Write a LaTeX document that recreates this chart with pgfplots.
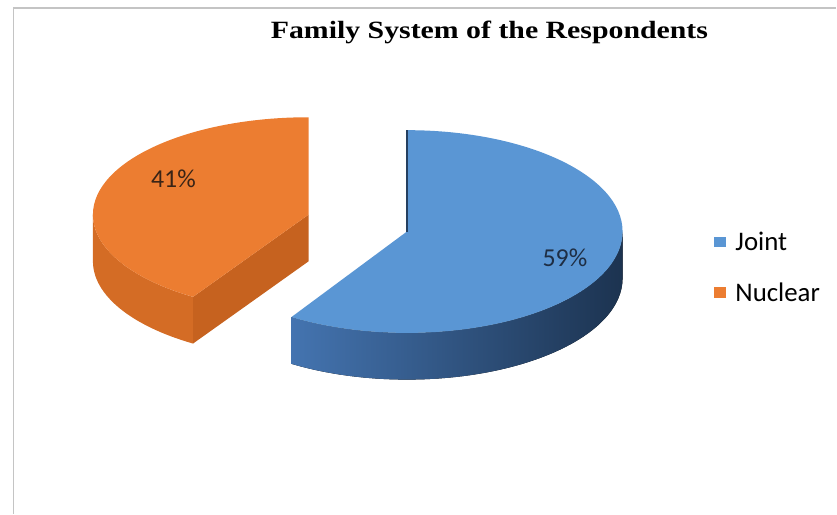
\documentclass[border=0pt]{standalone}
\usepackage{pgfplots}
\pgfplotsset{compat=1.18}
\usepackage{pgfplotstable}
\usepackage{fontspec}
\setmainfont{Carlito}
\newfontfamily\titlefont[FakeStretch=1.2]{Liberation Serif}
\definecolor{jblue}{HTML}{5A96D4}
\definecolor{jsideL}{HTML}{4474B0}
\definecolor{jsideR}{HTML}{1C3350}
\definecolor{jedge}{HTML}{243F60}
\definecolor{norange}{HTML}{EC7D31}
\definecolor{nside}{HTML}{D46C25}
\definecolor{nface}{HTML}{C6621F}
\definecolor{labJ}{HTML}{1E2E44}
\definecolor{labN}{HTML}{3A2416}
\definecolor{frame}{HTML}{C4C4C4}

\pgfplotstableread{
label value
Joint 59
Nuclear 41
}\pietable

\begin{document}
\pgfplotstablegetelem{0}{value}\of\pietable \let\vJ\pgfplotsretval
\pgfplotstablegetelem{1}{value}\of\pietable \let\vN\pgfplotsretval
\pgfmathsetmacro\endJ{90-3.6*\vJ}
\pgfmathsetmacro\endN{90+3.6*\vN}
\begin{tikzpicture}
\begin{axis}[
  hide axis, x=1pt, y=1pt, xmin=0, xmax=837, ymin=0, ymax=517,
  clip=false, scale only axis,
  legend style={at={(axis cs:714,286)}, anchor=north west, draw=none, fill=none,
    font=\fontsize{27}{32}\selectfont, row sep=27pt, inner sep=0pt},
  legend cell align=left,
]
\path (axis cs:0,0) rectangle (axis cs:837,517);
\addlegendimage{legend image code/.code={\fill[jblue] (0pt,-5pt) rectangle (11pt,5pt); \path (19pt,0pt);}}
\addlegendentry{Joint}
\addlegendimage{legend image code/.code={\fill[norange] (0pt,-5pt) rectangle (11pt,5pt); \path (19pt,0pt);}}
\addlegendentry{Nuclear}

% frame
\draw[frame, line width=1.6pt] (axis cs:9,0) -- (axis cs:9,509) -- (axis cs:837,509);

% ---- Nuclear slice (exploded) ----
\path (axis cs:306,301) coordinate (OC);
\fill[nside] (OC) ++(180:217pt and 98pt)
  arc[start angle=180, end angle=\endN, x radius=217pt, y radius=98pt]
  -- ++(0,-47pt)
  arc[start angle=\endN, end angle=180, x radius=217pt, y radius=98pt] -- cycle;
\fill[nface] (OC) -- ++(\endN:217pt and 98pt) -- ++(0,-47pt)
  -- ++(\endN+180:217pt and 98pt) -- cycle;
\fill[norange] (OC) -- ++(90:217pt and 98pt)
  arc[start angle=90, end angle=\endN, x radius=217pt, y radius=98pt] -- cycle;

% ---- Joint slice ----
\path (axis cs:405,284) coordinate (JC);
\fill[left color=jsideL, right color=jsideR] (JC) ++(\endJ:217pt and 102pt)
  arc[start angle=\endJ, end angle=0, x radius=217pt, y radius=102pt]
  -- ++(0,-47pt)
  arc[start angle=0, end angle=\endJ, x radius=217pt, y radius=102pt] -- cycle;
\fill[jblue] (JC) -- ++(90:217pt and 102pt)
  arc[start angle=90, end angle=\endJ, x radius=217pt, y radius=102pt] -- cycle;
\draw[jedge, line width=1.6pt] (JC) -- ++(90:217pt and 102pt);

% labels
\node[font=\fontsize{26}{31}\selectfont, text=labJ] at (axis cs:564,258) {59\%};
\node[font=\fontsize{26}{31}\selectfont, text=labN] at (axis cs:170,337) {41\%};

% title
\node[font=\titlefont\bfseries\fontsize{25}{30}\selectfont] at (axis cs:488,484)
  {Family System of the Respondents};
\end{axis}
\end{tikzpicture}
\end{document}
